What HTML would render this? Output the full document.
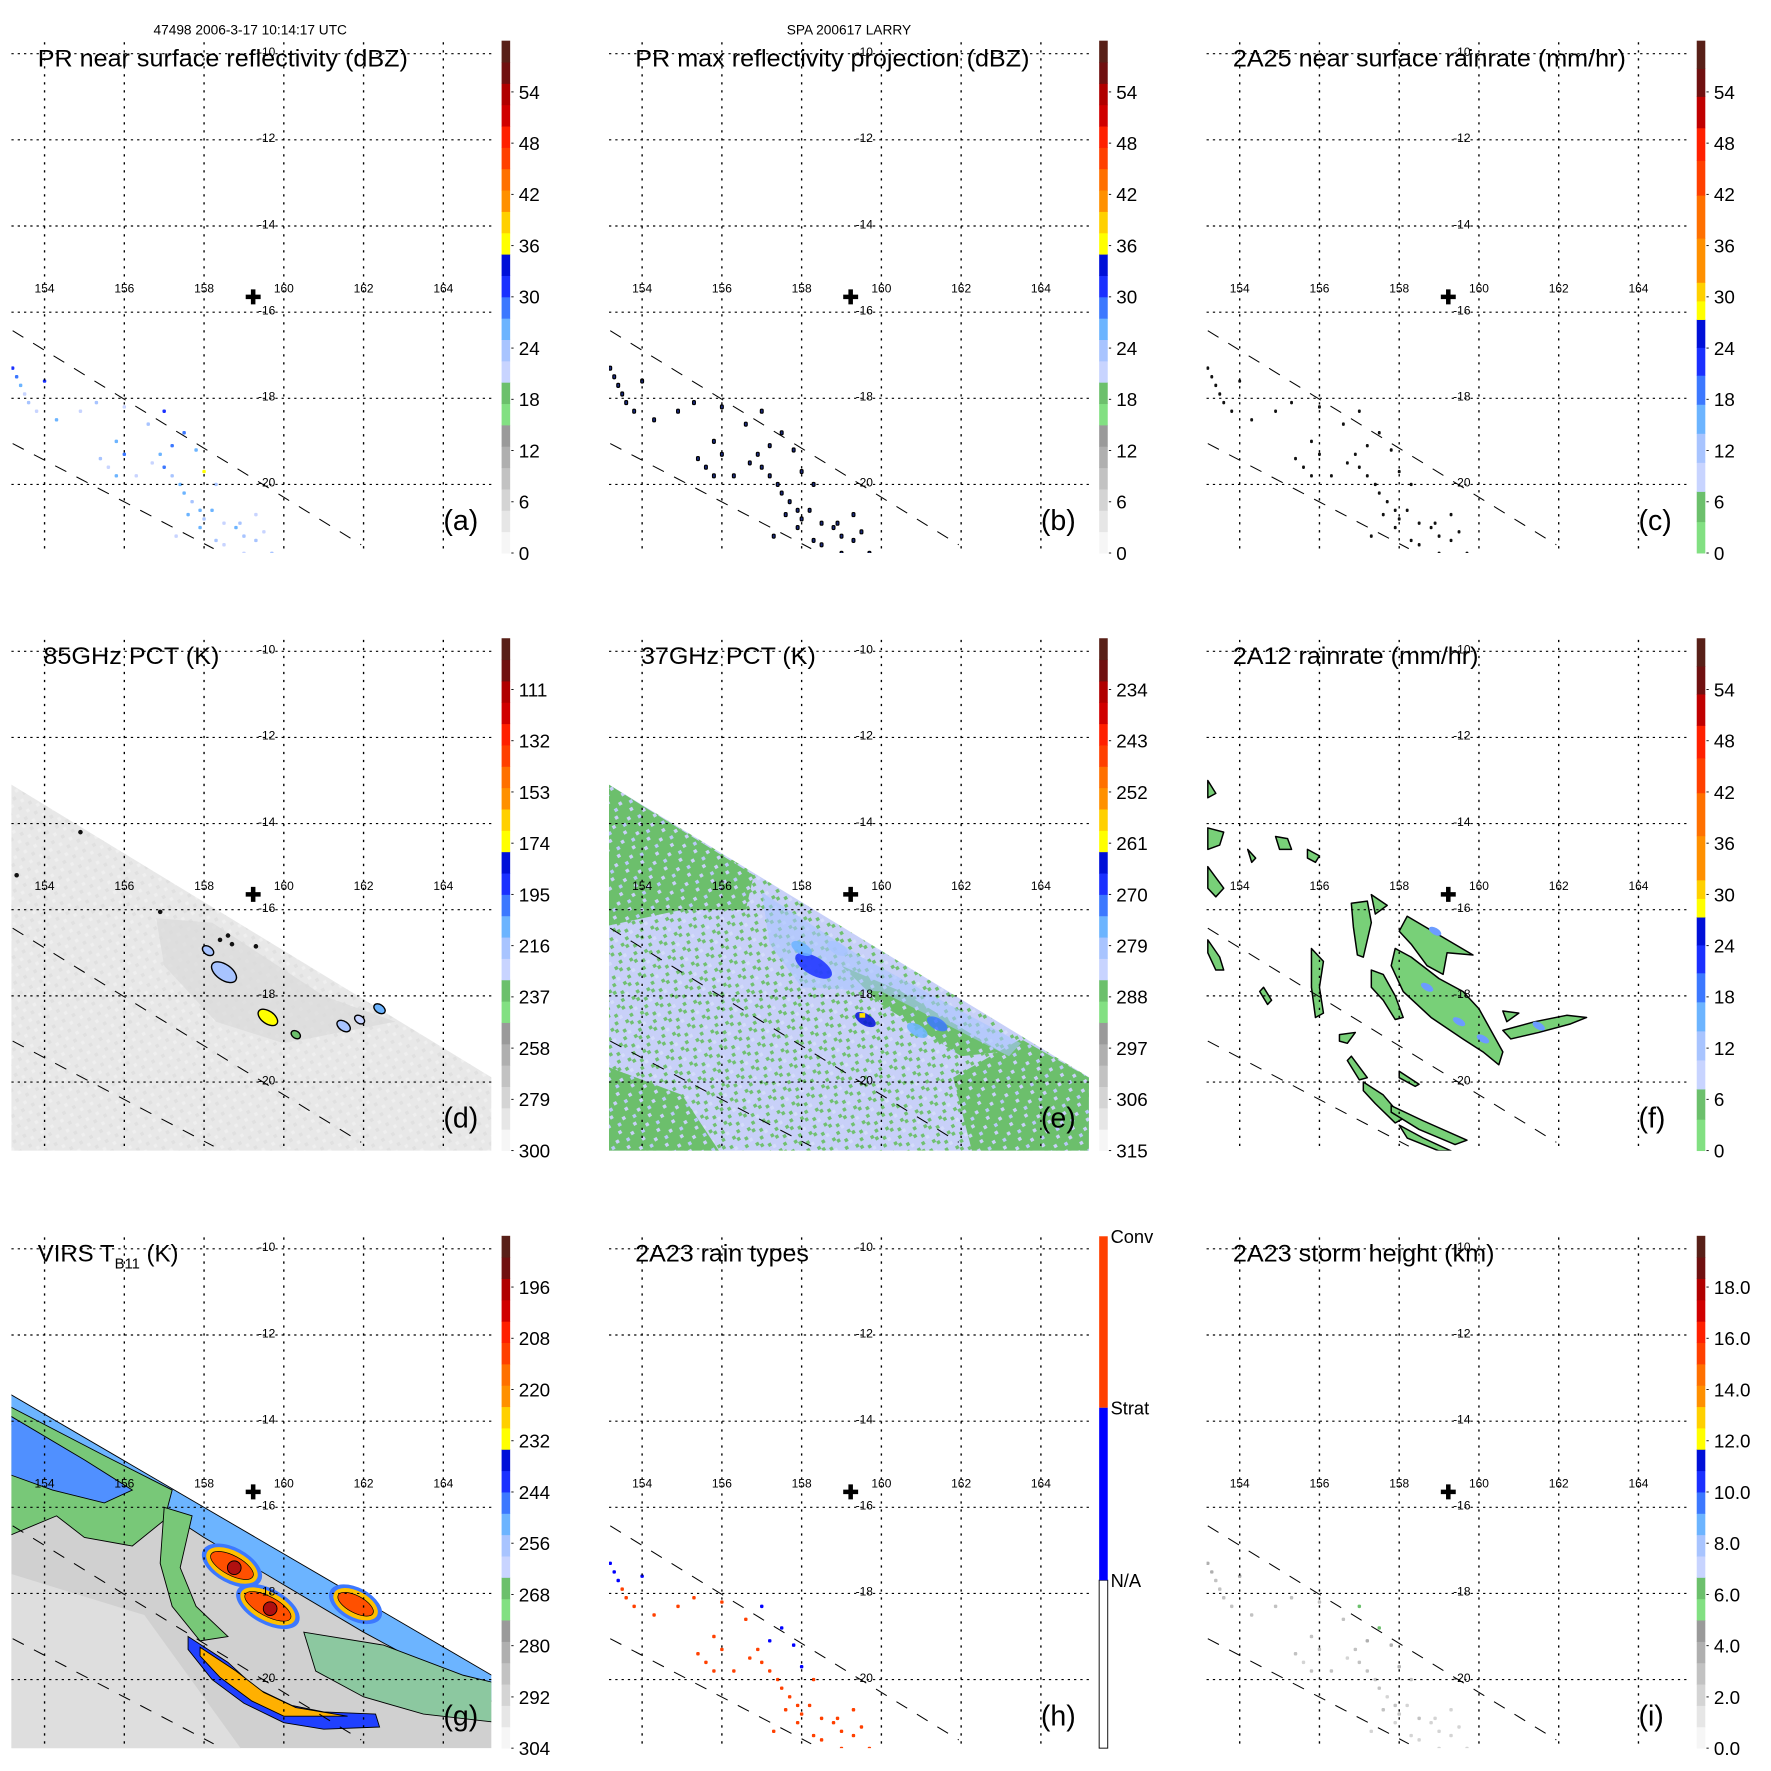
<!DOCTYPE html>
<html><head><meta charset="utf-8"><title>LARRY TRMM overpass</title>
<style>
html,body{margin:0;padding:0;background:#fff;}
svg{display:block;font-family:"Liberation Sans",Arial,sans-serif;}
</style></head>
<body>
<svg id="fig" width="1771" height="1771" viewBox="0 0 1550 1550" xmlns="http://www.w3.org/2000/svg">
<defs>
<pattern id="patMix" width="15" height="15" patternUnits="userSpaceOnUse" patternTransform="rotate(-30)">
<rect width="15" height="15" fill="#c8d0f8"/>
<rect x="0" y="0" width="3" height="3" fill="#70c070"/><rect x="6" y="3" width="3" height="3" fill="#70c070"/>
<rect x="3" y="9" width="3" height="3" fill="#70c070"/><rect x="12" y="12" width="3" height="3" fill="#70c070"/>
<rect x="9" y="6" width="3" height="3" fill="#d4dcfa"/>
</pattern>
<pattern id="patGreen" width="15" height="15" patternUnits="userSpaceOnUse" patternTransform="rotate(-30)">
<rect width="15" height="15" fill="#6cbf6c"/>
<rect x="3" y="3" width="3" height="3" fill="#c8d0f8"/><rect x="12" y="9" width="3" height="3" fill="#c8d0f8"/>
<rect x="6" y="12" width="3" height="3" fill="#b8c8f8"/>
</pattern>
<pattern id="patGray" width="10" height="10" patternUnits="userSpaceOnUse" patternTransform="rotate(-30)">
<rect width="10" height="10" fill="#e8e8e8"/>
<rect x="0" y="0" width="3" height="3" fill="#e0e0e0"/><rect x="5" y="5" width="3" height="3" fill="#efefef"/>
</pattern>
</defs>
</svg>
<script>
// ---------- data ----------
const lonTicks=[154,156,158,160,162,164];
const latTicks=[-10,-12,-14,-16,-18,-20];
const titles=["PR near surface reflectivity (dBZ)","PR max reflectivity projection (dBZ)","2A25 near surface rainrate (mm/hr)","85GHz PCT (K)","37GHz PCT (K)","2A12 rainrate (mm/hr)","VIRS T","2A23 rain types","2A23 storm height (km)"];
const titleWidths=[324,345,344,154,153,215,0,152,229];
const panelLetters=["(a)","(b)","(c)","(d)","(e)","(f)","(g)","(h)","(i)"];
const cbLabelsA=["54","48","42","36","30","24","18","12","6","0"];
const cbLabelsC=["54","48","42","36","30","24","18","12","6","0"];
const cbLabelsD=["111","132","153","174","195","216","237","258","279","300"];
const cbLabelsE=["234","243","252","261","270","279","288","297","306","315"];
const cbLabelsG=["196","208","220","232","244","256","268","280","292","304"];
const cbLabelsI=["18.0","16.0","14.0","12.0","10.0","8.0","6.0","4.0","2.0","0.0"];
const cbLabelsH=["Conv","Strat","N/A"];
const stormLon=159.23, stormLat=-15.65;
// PR echo cells
const echoLon=[153.2,153.3,153.4,154.0,153.6,153.8,154.3,154.9,155.3,156.0,155.8,156.0,155.4,155.6,155.8,157.0,157.5,157.8,156.9,157.0,157.2,157.4,157.5,157.7,157.9,158.0,158.2,158.5,158.8,159.0,159.3,158.5,159.0,158.0,158.3,157.3,156.3,158.3,159.7,157.6,159.3,156.7,157.9,157.2,158.9,159.5,153.5,156.6];
const echoLat=[-17.3,-17.5,-17.7,-17.6,-18.1,-18.3,-18.5,-18.3,-18.1,-18.2,-19.0,-19.3,-19.4,-19.6,-19.8,-18.3,-18.8,-19.2,-19.3,-19.6,-19.8,-20.0,-20.2,-20.4,-20.6,-20.8,-20.6,-20.9,-21.0,-21.2,-21.3,-21.4,-21.6,-19.7,-20.0,-21.2,-19.8,-21.3,-21.6,-20.7,-20.7,-19.5,-21.0,-19.1,-20.9,-21.1,-17.9,-18.6];
const echoDbz=[30,28,27,31,24,22,25,22,24,21,26,28,23,22,25,30,29,27,26,28,24,25,27,23,26,24,25,22,26,24,23,22,21,37,24,20,22,24,23,26,22,21,25,28,24,22,21,23];
const echoType=[1,1,1,1,2,2,2,2,2,2,2,2,2,2,2,1,1,1,2,2,2,2,2,2,2,2,2,2,2,2,2,2,2,1,2,2,2,2,2,2,2,2,2,1,2,2,2,2];
const echoHeight=[4,4,3,4,3,3,3,3,3,3,3,3,3,2,3,6,6,4,3,3,3,3,3,2,3,3,2,3,2,2,2,2,2,4,3,2,3,2,2,3,2,2,2,4,2,2,3,3];
// 85GHz blobs
const d85Lon=[158.1,158.5,159.6,160.3,161.5,161.9,162.4];
const d85Lat=[-16.95,-17.45,-18.5,-18.9,-18.7,-18.55,-18.3];
const d85Size=[0.1,0.3,0.22,0.07,0.13,0.08,0.1];
const d85Val=[215,215,170,235,220,225,205];
// 37GHz blue cores
const e37Lon=[158.3,158.0,159.6,161.4,160.9,158.9];
const e37Lat=[-17.3,-16.9,-18.55,-18.65,-18.8,-16.9];
const e37Val=[268,275,266,272,274,280];
// 2A12 rain blobs
const fBlobs=[
 [[157.9,-16.9],[158.3,-17.1],[159.0,-17.6],[159.6,-17.9],[160.0,-18.3],[160.6,-19.3],[160.5,-19.6],[160.1,-19.3],[159.6,-19.0],[158.8,-18.5],[158.1,-17.9],[157.8,-17.3]],
 [[158.2,-16.15],[159.85,-17.05],[159.2,-17.0],[159.1,-17.5],[158.7,-17.3],[158.3,-16.8],[158.0,-16.5]],
 [[156.8,-15.85],[157.2,-15.8],[157.3,-16.3],[157.1,-17.1],[156.95,-17.05],[156.85,-16.4]],
 [[157.3,-15.65],[157.7,-15.9],[157.4,-16.1]],
 [[157.3,-17.4],[157.6,-17.5],[157.9,-18.0],[158.1,-18.5],[157.9,-18.55],[157.6,-18.1],[157.3,-17.8]],
 [[160.6,-18.8],[161.4,-18.6],[162.2,-18.45],[162.7,-18.5],[162.3,-18.65],[161.5,-18.85],[160.8,-19.0]],
 [[160.6,-18.35],[161.0,-18.4],[160.7,-18.6]],
 [[156.8,-19.4],[157.2,-19.9],[157.0,-19.95],[156.7,-19.5]],
 [[157.1,-20.0],[157.6,-20.3],[158.1,-20.85],[157.9,-20.95],[157.4,-20.5],[157.1,-20.2]],
 [[157.8,-20.55],[158.6,-20.9],[159.7,-21.35],[159.4,-21.45],[158.5,-21.1],[157.8,-20.7]],
 [[158.0,-21.0],[158.6,-21.3],[159.3,-21.6],[159.0,-21.6],[158.2,-21.3]],
 [[158.0,-19.75],[158.5,-20.05],[158.4,-20.1],[158.0,-19.9]],
 [[155.8,-16.9],[156.1,-17.2],[156.0,-17.8],[156.1,-18.4],[155.9,-18.5],[155.8,-17.8]],
 [[153.2,-14.1],[153.6,-14.2],[153.5,-14.5],[153.2,-14.6]],
 [[154.9,-14.3],[155.2,-14.35],[155.3,-14.6],[155.0,-14.6]],
 [[155.7,-14.6],[156.0,-14.75],[155.9,-14.9],[155.7,-14.8]],
 [[153.2,-15.0],[153.6,-15.5],[153.4,-15.7],[153.2,-15.5]],
 [[153.2,-16.7],[153.5,-17.1],[153.6,-17.4],[153.4,-17.4],[153.2,-17.0]],
 [[154.6,-17.8],[154.8,-18.1],[154.7,-18.2],[154.5,-17.9]],
 [[156.5,-18.9],[156.9,-18.85],[156.7,-19.1],[156.5,-19.05]],
 [[153.2,-13.0],[153.4,-13.3],[153.2,-13.4]],
 [[154.2,-14.6],[154.4,-14.8],[154.3,-14.9]]
];
const fBlue=[[158.7,-17.8],[159.5,-18.6],[160.1,-19.0],[158.9,-16.5],[161.5,-18.7]];
// VIRS cold cloud features
const gRedLon=[158.7,159.6,161.8];
const gRedLat=[-17.35,-18.3,-18.25];
const gRedRx=[0.65,0.7,0.55];
const gRedRy=[0.28,0.28,0.25];

// ---------- helpers ----------
const NS="http://www.w3.org/2000/svg";
const svg=document.getElementById("fig");
function X(col,lon){return col*523+39+(lon-154)*34.9;}
function Y(row,lat){return row*523+47+(-10-lat)*37.7;}
function mk(tag,attrs,parent){const e=document.createElementNS(NS,tag);for(const k in attrs)e.setAttribute(k,attrs[k]);(parent||svg).appendChild(e);return e;}
function poly(col,row,pts){return pts.map(p=>X(col,p[0]).toFixed(1)+","+Y(row,p[1]).toFixed(1)).join(" ");}
const stdCols=['#f6f6f6','#e6e6e6','#d4d4d4','#c2c2c2','#afafaf','#9a9a9a','#82e082','#6cc06c','#c8d4ff','#a8c4ff','#6cb4ff','#3c78ff','#1a30ff','#0010d8','#ffff00','#ffd000','#ff9000','#ff7000','#ff4000','#ff2000','#d00000','#b00000','#701010','#582018'];
function stdColor(v,vmin,vmax){let f=(v-vmin)/(vmax-vmin);let i=Math.floor(f*24);i=Math.max(0,Math.min(23,i));return stdCols[i];}
const rainCols=[['#82e082',27],['#6cc06c',26],['#c8d4ff',25],['#a8c4ff',25],['#6cb4ff',25],['#3c78ff',25],['#1a30ff',24],['#0010d8',24],['#ffff00',16],['#ffd000',16],['#ff9000',38],['#ff7000',37],['#ff4000',30],['#ff2000',28],['#c00000',27],['#701010',24],['#582018',24]];

// ---------- header ----------
let t=mk("text",{x:219,y:30,"font-size":12,"text-anchor":"middle",fill:"#000"});


t.textContent="47498 2006-3-17 10:14:17 UTC";
t=mk("text",{x:743,y:30,"font-size":12,"text-anchor":"middle",fill:"#000"});


t.textContent="SPA 200617 LARRY";

for(let p=0;p<9;p++){
 const col=p%3,row=Math.floor(p/3),ox=col*523,oy=row*523;
 const g=mk("g",{});
 
 
 const cp=mk("clipPath",{id:"clip"+p},g);
 mk("rect",{x:ox+10,y:oy+37,width:420,height:447},cp);
 const data=mk("g",{"clip-path":"url(#clip"+p+")"},g);
 
 

 if(p===3||p===4||p===6){
  const topL=p===6?-13.4:-13.1, topR=p===6?-20.0:-19.9;
  const sw=mk("polygon",{points:poly(col,row,[[153.0,topL+0.1],[165.4,topR-0.1],[165.4,-22],[153.0,-22]]),fill:p===3?"url(#patGray)":(p===4?"url(#patMix)":"#d0d0d0")},data);
  
  
  if(p===3){
   const s=mk("polygon",{points:poly(col,row,[[156.8,-16.2],[158.2,-16.3],[161,-18.0],[162.8,-18.6],[160,-19.1],[158.3,-18.6],[157.0,-17.3]]),fill:"#dadada",opacity:0.7},data);
   
   
  }
  if(p===4){
   const zones=[[[153.0,-13.0],[156.8,-15.2],[156.6,-16.0],[155.0,-16.0],[153.0,-16.4]],[[153.0,-19.6],[155.0,-20.3],[156.0,-21.7],[153.0,-21.7]],[[161.8,-19.9],[163.5,-19.0],[165.4,-20.0],[165.4,-21.7],[162.3,-21.7]],[[159.0,-17.3],[160.5,-17.9],[163,-19.3],[162,-19.4],[160,-18.2]]];
   zones.forEach(z=>{const e=mk("polygon",{points:poly(col,row,z),fill:"url(#patGreen)"},data);
    
    });
   const band=mk("polygon",{points:poly(col,row,[[157.0,-15.6],[159.5,-17.1],[163.5,-19.1],[163.2,-19.4],[160.0,-17.9],[158.0,-17.8],[157.2,-16.8]]),fill:"#a8c4ff",opacity:0.6},data);
   
   
   for(let i=0;i<e37Lon.length;i++){
    const e=mk("ellipse",{cx:X(col,e37Lon[i]),cy:Y(row,e37Lat[i]),rx:i===0?18:10,ry:i===0?8:5,fill:stdColor(e37Val[i],315,225),opacity:0.85,transform:`rotate(30 ${X(col,e37Lon[i])} ${Y(row,e37Lat[i])})`},data);
    
    
   }
   const y=mk("rect",{x:X(col,159.45),y:Y(row,-18.4),width:5,height:4,fill:"#ffe000"},data);
   
   
  }
  if(p===6){
   const light=mk("polygon",{points:poly(col,row,[[153.0,-17.5],[156.5,-18.5],[159,-21.7],[153,-21.7]]),fill:"#dedede"},data);
   
   
   const parts=[
    {pts:[[153.0,-13.3],[165.4,-20.0],[165.4,-20.6],[162,-18.9],[158,-16.7],[156,-15.5],[153,-14.0]],fill:"#6cb4ff",n:'cold-edge-band'},
    {pts:[[153.0,-13.6],[155.5,-14.8],[157.2,-15.6],[157,-16.3],[156.2,-16.9],[155.0,-16.7],[154.3,-16.2],[153.0,-16.7]],fill:"#78c878",n:'nw-cloud-green'},
    {pts:[[153.0,-13.8],[155.0,-14.9],[156.2,-15.6],[155.5,-15.9],[154.2,-15.6],[153.0,-15.2]],fill:"#5090ff",n:'nw-cloud-blue'},
    {pts:[[157.0,-16.0],[157.7,-16.2],[157.4,-17.4],[157.8,-18.3],[158.6,-19.0],[157.9,-19.1],[157.2,-18.3],[156.9,-17.3]],fill:"#78c878",n:'west-cloud-edge'},
    {pts:[[160.5,-18.9],[162.5,-19.2],[164.5,-19.9],[165.4,-20.1],[165.4,-21.0],[163.5,-20.8],[162.0,-20.4],[160.8,-19.8]],fill:"#8cc8a0",n:'se-cloud'},
    {pts:[[157.6,-19.0],[158.6,-19.6],[159.3,-20.2],[160.2,-20.6],[161.0,-20.75],[162.3,-20.8],[162.4,-21.1],[161,-21.15],[160,-21.0],[159,-20.55],[158.2,-20.0],[157.6,-19.3]],fill:"#2040ff",n:'arc-band-blue'},
    {pts:[[157.9,-19.25],[158.8,-19.8],[159.5,-20.3],[160.3,-20.65],[161.6,-20.85],[160.0,-20.85],[159.2,-20.5],[158.4,-19.95],[157.9,-19.45]],fill:"#ffb000",n:'arc-band-cold'}
   ];
   parts.forEach(q=>{const e=mk("polygon",{points:poly(col,row,q.pts),fill:q.fill,stroke:"#000","stroke-width":0.8},data);
    
    });
   for(let i=0;i<gRedLon.length;i++){
    const cx=X(col,gRedLon[i]),cy=Y(row,gRedLat[i]);
    let e=mk("ellipse",{cx:cx,cy:cy,rx:gRedRx[i]*34.9+6,ry:gRedRy[i]*37.7+5,fill:"#3c78ff",transform:`rotate(28 ${cx} ${cy})`},data);
    
    
    e=mk("ellipse",{cx:cx,cy:cy,rx:gRedRx[i]*34.9+2,ry:gRedRy[i]*37.7+2,fill:"#ffc000",transform:`rotate(28 ${cx} ${cy})`},data);
    
    
    e=mk("ellipse",{cx:cx,cy:cy,rx:gRedRx[i]*34.9-2,ry:gRedRy[i]*37.7-2,fill:"#ff5000",stroke:"#000","stroke-width":0.6,transform:`rotate(28 ${cx} ${cy})`},data);
    
    
    if(i<2){e=mk("circle",{cx:cx+2,cy:cy+2,r:6,fill:"#b01010",stroke:"#000","stroke-width":0.8},data);
     
     }
   }
  }
 }
 if(p===3){
  for(let i=0;i<d85Lon.length;i++){
   const cx=X(col,d85Lon[i]),cy=Y(row,d85Lat[i]);
   const e=mk("ellipse",{cx:cx,cy:cy,rx:d85Size[i]*34.9+2,ry:d85Size[i]*16+2,fill:stdColor(d85Val[i],300,90),stroke:"#000","stroke-width":1.2,transform:`rotate(35 ${cx} ${cy})`},data);
   
   
  }
  [[154.9,-14.2],[153.3,-15.2],[158.4,-16.7],[158.6,-16.6],[158.7,-16.8],[159.3,-16.85],[156.9,-16.05]].forEach(q=>{
   const e=mk("circle",{cx:X(col,q[0]),cy:Y(row,q[1]),r:2,fill:"#111"},data);
   
   });
 }
 if(p===5){
  fBlobs.forEach(b=>{const e=mk("polygon",{points:poly(col,row,b),fill:"#78d078",stroke:"#000","stroke-width":1.3,"stroke-linejoin":"round"},data);
   
   });
  fBlue.forEach(q=>{const e=mk("ellipse",{cx:X(col,q[0]),cy:Y(row,q[1]),rx:6,ry:3,fill:"#6c9cff",transform:`rotate(30 ${X(col,q[0])} ${Y(row,q[1])})`},data);
   
   });
 }
 if([0,1,2,7,8].includes(p)){
  for(let i=0;i<echoLon.length;i++){
   const cx=X(col,echoLon[i]),cy=Y(row,echoLat[i]);
   let fill,w=3,h=3,stroke="none";
   if(p===0){fill=stdColor(echoDbz[i],0,60);}
   else if(p===1){fill="#1a2a80";stroke="#000";w=2.5;h=3.5;}
   else if(p===2){fill="#111";w=2.5;h=3;}
   else if(p===7){fill=echoType[i]===2?"#ff4000":"#0000ff";}
   else {fill=stdColor(echoHeight[i],0,20);}
   const e=mk("rect",{x:cx-w/2,y:cy-h/2,width:w,height:h,rx:1,fill:fill,stroke:stroke,"stroke-width":1},data);
   
   
  }
 }

 latTicks.forEach(lat=>{const e=mk("line",{x1:ox+10,x2:ox+430,y1:Y(row,lat),y2:Y(row,lat),stroke:"#000","stroke-width":1,"stroke-dasharray":"2,3.5"},g);
  
  
  const l=mk("text",{x:ox+241,y:Y(row,lat)+2,"font-size":10.5,"text-anchor":"end",fill:"#000"},g);
  
  
  l.textContent=String(lat);});
 lonTicks.forEach(lon=>{const e=mk("line",{x1:X(col,lon),x2:X(col,lon),y1:oy+37,y2:oy+484,stroke:"#000","stroke-width":1.2,"stroke-dasharray":"2,5"},g);
  
  
  const l=mk("text",{x:X(col,lon),y:oy+256,"font-size":10.5,"text-anchor":"middle",fill:"#000"},g);
  
  
  l.textContent=String(lon);});
 [[[153.2,-16.43],[161.94,-21.4]],[[153.2,-19.05],[158.24,-21.49]]].forEach(s=>{
  const e=mk("line",{x1:X(col,s[0][0]),y1:Y(row,s[0][1]),x2:X(col,s[1][0]),y2:Y(row,s[1][1]),stroke:"#000","stroke-width":0.9,"stroke-dasharray":"11,10"},g);
  
  });
 const cr=mk("text",{x:X(col,stormLon),y:Y(row,stormLat)+6,"font-size":17,"font-weight":"bold","text-anchor":"middle",fill:"#000"},g);
 
 
 cr.textContent="✚";
 const ti=mk("text",{x:ox+(p===3||p===4?38:33),y:oy+58,"font-size":21,fill:"#000"},g);
 
 
 if(p===6){
  ti.textContent="VIRS T";
  const sub=mk("tspan",{"font-size":13,dy:6},ti);
  sub.textContent="B11";
  const rest=mk("tspan",{dy:-6},ti);
  rest.textContent=" (K)";
 } else {
  ti.textContent=titles[p];
  ti.setAttribute("textLength",titleWidths[p]);
  ti.setAttribute("lengthAdjust","spacingAndGlyphs");
 }
 const pl=mk("text",{x:ox+388,y:oy+464,"font-size":25,fill:"#000"},g);
 
 
 pl.textContent=panelLetters[p];

 const cb=mk("g",{},g);
 
 
 const cbx=ox+439,cbw=7.5,top=oy+35.6,bot=oy+484;
 if(p===7){
  [["#ffffff",337,484],["#0000ff",186,337],["#ff4000",36,186]].forEach(s=>{
   const r=mk("rect",{x:cbx,y:oy+s[1],width:cbw,height:s[2]-s[1],fill:s[0],stroke:s[0]==="#ffffff"?"#000":"none","stroke-width":0.8},cb);
   
   });
  const ys=[36,186,337];
  cbLabelsH.forEach((s,i)=>{const l=mk("text",{x:cbx+10,y:oy+ys[i]+6,"font-size":16,fill:"#000"},cb);
   
   
   l.textContent=s;});
 } else {
  if(col===2&&row<2){
   let y=bot;const tot=rainCols.reduce((a,c)=>a+c[1],0);
   rainCols.forEach(c=>{const hh=c[1]/tot*(bot-top);y-=hh;
    const r=mk("rect",{x:cbx,y:y,width:cbw,height:hh+0.4,fill:c[0]},cb);
    
    });
  } else {
   const hh=(bot-top)/24;
   stdCols.forEach((c,i)=>{const r=mk("rect",{x:cbx,y:bot-(i+1)*hh,width:cbw,height:hh+0.4,fill:c},cb);
    
    });
  }
  const labs=[cbLabelsA,cbLabelsA,cbLabelsC,cbLabelsD,cbLabelsE,cbLabelsC,cbLabelsG,null,cbLabelsI][p];
  labs.forEach((s,i)=>{const ly=top+(i+1)*(bot-top)/10;
   const tk=mk("line",{x1:cbx+cbw+1,x2:cbx+cbw+3,y1:ly,y2:ly,stroke:"#000","stroke-width":0.8},cb);
   
   
   const l=mk("text",{x:cbx+15,y:ly+6,"font-size":16.5,fill:"#000"},cb);
   
   
   l.textContent=s;});
 }
}
</script>
</body></html>
